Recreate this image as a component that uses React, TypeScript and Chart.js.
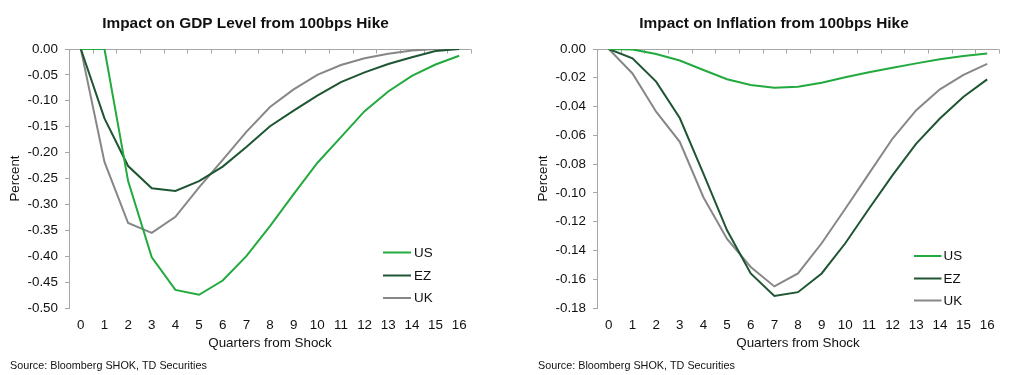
import React, { useEffect, useRef } from 'react';
import { Chart, registerables } from 'chart.js';

Chart.register(...registerables);

const FONT = '"Liberation Sans", Arial, Helvetica, sans-serif';
const TEXT = '#111111';
const AXIS = '#a6a6a6';
const C_US = '#22aa3e';
const C_EZ = '#1e5532';
const C_UK = '#878787';

const QUARTERS: string[] = ['0', '1', '2', '3', '4', '5', '6', '7', '8', '9', '10', '11', '12', '13', '14', '15', '16'];
const SERIES_NAMES: string[] = ['US', 'EZ', 'UK'];

// Impact on GDP Level (Percent)
const GDP_US: number[] = [0, 0, -0.255, -0.402, -0.465, -0.4745, -0.447, -0.4, -0.342, -0.28, -0.22, -0.17, -0.12, -0.082, -0.052, -0.03, -0.013];
const GDP_EZ: number[] = [0, -0.134, -0.226, -0.269, -0.274, -0.255, -0.227, -0.189, -0.149, -0.119, -0.09, -0.064, -0.045, -0.029, -0.016, -0.004, 0];
const GDP_UK: number[] = [0, -0.218, -0.336, -0.355, -0.324, -0.267, -0.214, -0.16, -0.112, -0.078, -0.05, -0.031, -0.018, -0.009, -0.003, 0, 0];
const GDP_Y_TICKS: number[] = [0, -0.05, -0.1, -0.15, -0.2, -0.25, -0.3, -0.35, -0.4, -0.45, -0.5];

// Impact on Inflation (Percent)
const INF_US: number[] = [0, -0.0003, -0.0035, -0.008, -0.0146, -0.021, -0.025, -0.027, -0.0262, -0.0234, -0.0197, -0.0162, -0.013, -0.01, -0.0072, -0.0049, -0.0032];
const INF_EZ: number[] = [0, -0.0065, -0.0227, -0.048, -0.0866, -0.126, -0.156, -0.1717, -0.169, -0.156, -0.135, -0.111, -0.0877, -0.0657, -0.0483, -0.0332, -0.0211];
const INF_UK: number[] = [0, -0.017, -0.0436, -0.0645, -0.103, -0.132, -0.1515, -0.165, -0.156, -0.135, -0.111, -0.0866, -0.0622, -0.0425, -0.028, -0.018, -0.0104];
const INF_Y_TICKS: number[] = [0, -0.02, -0.04, -0.06, -0.08, -0.1, -0.12, -0.14, -0.16, -0.18];

const X_TITLE = 'Quarters from Shock';
const Y_TITLE = 'Percent';
const SOURCE = 'Source: Bloomberg SHOK, TD Securities';

interface PanelSpec {
  left: number;
  width: number;
  title: string;
  series: number[][];
  yTicks: number[];
  yWidth: number;
  padRight: number;
  titleX: number;
  percentX: number;
  sourceX: number;
  legX1: number;
  legX2: number;
  legTextX: number;
  legY: number[];
}

const PANELS: PanelSpec[] = [
  {
    left: 0, width: 504, title: 'Impact on GDP Level from 100bps Hike',
    series: [GDP_US, GDP_EZ, GDP_UK], yTicks: GDP_Y_TICKS,
    yWidth: 69, padRight: 33, titleX: 245.5, percentX: 15, sourceX: 10,
    legX1: 383, legX2: 411, legTextX: 414, legY: [252.5, 275.5, 298],
  },
  {
    left: 504, width: 505, title: 'Impact on Inflation from 100bps Hike',
    series: [INF_US, INF_EZ, INF_UK], yTicks: INF_Y_TICKS,
    yWidth: 93, padRight: 10, titleX: 270, percentX: 39, sourceX: 34,
    legX1: 410, legX2: 437.5, legTextX: 439.5, legY: [256, 278.5, 300.5],
  },
];

const COLORS = [C_US, C_EZ, C_UK];

const decor = {
  id: 'decor',
  beforeDatasetsDraw(chart: any, _a: any, o: any) {
    const { ctx, chartArea: ca } = chart;
    const n = o.count as number;
    ctx.save();
    ctx.strokeStyle = AXIS;
    ctx.lineWidth = 1;
    const y = Math.round(ca.top) + 0.5;
    ctx.beginPath();
    ctx.moveTo(ca.left, y);
    ctx.lineTo(ca.right, y);
    const w = (ca.right - ca.left) / n;
    for (let i = 1; i <= n; i++) {
      const x = Math.round(ca.left + i * w) + 0.5;
      ctx.moveTo(x, y);
      ctx.lineTo(x, y + 4);
    }
    ctx.stroke();
    ctx.restore();
  },
  afterDraw(chart: any, _a: any, o: any) {
    const { ctx, chartArea: ca } = chart;
    const p: PanelSpec = o.spec;
    ctx.save();
    ctx.fillStyle = TEXT;
    // title
    ctx.font = `bold 15.4px ${FONT}`;
    ctx.textAlign = 'center';
    ctx.textBaseline = 'middle';
    ctx.fillText(p.title, p.titleX, 23.5);
    // x title
    ctx.font = `13.4px ${FONT}`;
    ctx.fillText(X_TITLE, (ca.left + ca.right) / 2, 343.5);
    // y title
    ctx.save();
    ctx.translate(p.percentX, (ca.top + ca.bottom) / 2);
    ctx.rotate(-Math.PI / 2);
    ctx.fillText(Y_TITLE, 0, 0);
    ctx.restore();
    // source
    ctx.font = `10.8px ${FONT}`;
    ctx.textAlign = 'left';
    ctx.fillText(SOURCE, p.sourceX, 366);
    // legend
    ctx.font = `13.4px ${FONT}`;
    SERIES_NAMES.forEach((name, i) => {
      ctx.strokeStyle = COLORS[i];
      ctx.lineWidth = 2;
      ctx.beginPath();
      ctx.moveTo(p.legX1, p.legY[i]);
      ctx.lineTo(p.legX2, p.legY[i]);
      ctx.stroke();
      ctx.fillStyle = TEXT;
      ctx.fillText(name, p.legTextX, p.legY[i] + 0.5);
    });
    ctx.restore();
  },
};

function Panel({ spec }: { spec: PanelSpec }) {
  const ref = useRef<HTMLCanvasElement>(null);
  useEffect(() => {
    const yMin = Math.min(...spec.yTicks);
    const yMax = Math.max(...spec.yTicks);
    const chart = new Chart(ref.current as HTMLCanvasElement, {
      type: 'line',
      data: {
        labels: QUARTERS,
        datasets: spec.series.map((d, i) => ({
          label: SERIES_NAMES[i],
          data: d,
          borderColor: COLORS[i],
          backgroundColor: COLORS[i],
          borderWidth: 2,
          pointRadius: 0,
          tension: 0,
          fill: false,
        })),
      },
      options: {
        responsive: false,
        animation: false,
        layout: { padding: { top: 49, right: spec.padRight, bottom: 0, left: 0 } },
        plugins: {
          legend: { display: false },
          tooltip: { enabled: false },
          title: { display: false },
          decor: { count: QUARTERS.length, spec },
        } as any,
        scales: {
          x: {
            type: 'category',
            offset: true,
            grid: { display: false, drawTicks: false },
            border: { display: false },
            ticks: {
              autoSkip: false,
              maxRotation: 0,
              padding: 9,
              color: TEXT,
              font: { family: FONT, size: 13.4 },
            },
            afterFit: (s: any) => { s.height = 67; },
          },
          y: {
            min: yMin,
            max: yMax,
            grid: { display: true, drawOnChartArea: false, drawTicks: true, tickLength: 4, color: AXIS },
            border: { display: true, color: AXIS, width: 1 },
            ticks: {
              padding: 7,
              color: TEXT,
              font: { family: FONT, size: 13.4 },
              callback: (v: any) => Number(v).toFixed(2),
            },
            afterBuildTicks: (s: any) => { s.ticks = spec.yTicks.map((v) => ({ value: v })); },
            afterFit: (s: any) => { s.width = spec.yWidth; },
          },
        },
      },
      plugins: [decor],
    });
    return () => chart.destroy();
  }, [spec]);
  return (
    <div style={{ position: 'absolute', left: spec.left, top: 0, width: spec.width, height: 375 }}>
      <canvas ref={ref} width={spec.width} height={375} style={{ width: spec.width, height: 375, display: 'block' }} />
    </div>
  );
}

export default function App() {
  return (
    <div style={{ position: 'absolute', left: 0, top: 0, width: 1009, height: 375, background: '#ffffff', overflow: 'hidden' }}>
      {PANELS.map((p, i) => <Panel key={i} spec={p} />)}
    </div>
  );
}
